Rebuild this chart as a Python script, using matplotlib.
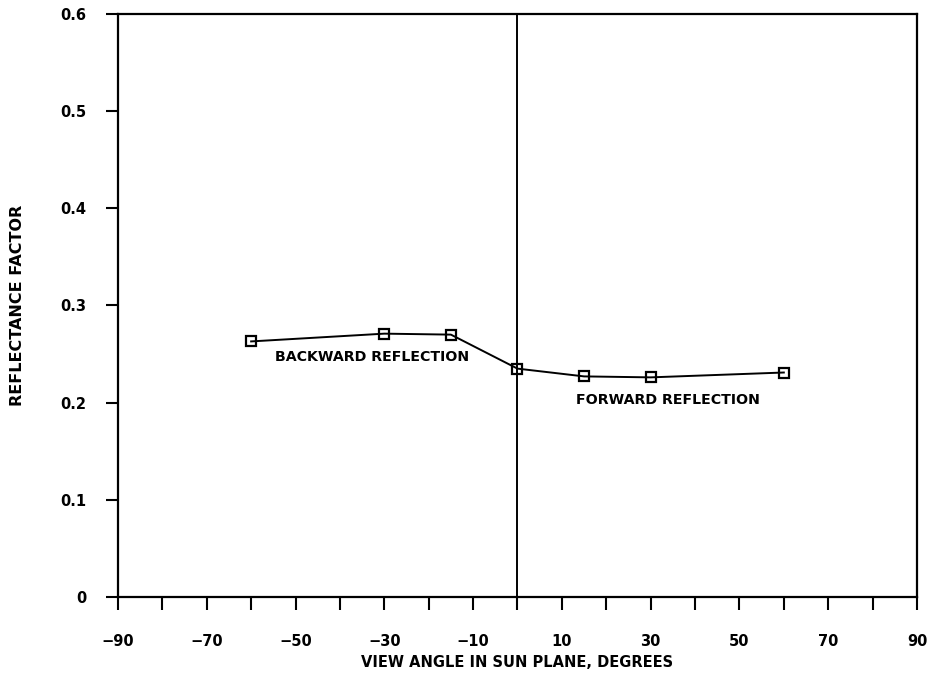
import matplotlib.pyplot as plt
import numpy as np

# reflectance factor vs view angle in the sun plane
angle = [-60, -30, -15, 0, 15, 30, 60]
refl = [0.263, 0.271, 0.270, 0.235, 0.227, 0.226, 0.231]

xticks = np.arange(-90, 91, 10)
xlabels = [str(v).replace('-', '\u2212') if (v + 90) % 20 == 0 else '' for v in xticks]
yticks = [0, 0.1, 0.2, 0.3, 0.4, 0.5, 0.6]
ylabels = ['0', '0.1', '0.2', '0.3', '0.4', '0.5', '0.6']

fig = plt.figure(figsize=(9.34, 6.83), dpi=100)
ax = fig.add_axes([0.1263, 0.126, 0.8555, 0.8535])

ax.plot(angle, refl, color='black', lw=1.4, marker='s', ms=7,
        mfc='none', mec='black', mew=1.6)
ax.axvline(0, color='black', lw=1.4)

ax.text(-32.7, 0.247, 'BACKWARD REFLECTION', ha='center', va='center',
        fontsize=10.2, fontweight='bold')
ax.text(33.8, 0.203, 'FORWARD REFLECTION', ha='center', va='center',
        fontsize=10.2, fontweight='bold')

ax.set_xlim(-90, 90)
ax.set_ylim(0, 0.6)
ax.set_xticks(xticks)
ax.set_xticklabels(xlabels)
ax.set_yticks(yticks)
ax.set_yticklabels(ylabels)
ax.tick_params(direction='out', length=9, width=1.5, labelsize=10.5)
ax.tick_params(axis='x', pad=18)
ax.tick_params(axis='y', pad=14)
for lab in ax.get_xticklabels() + ax.get_yticklabels():
    lab.set_fontweight('bold')
for s in ax.spines.values():
    s.set_linewidth(1.6)

ax.set_xlabel('VIEW ANGLE IN SUN PLANE, DEGREES', fontsize=10.5,
              fontweight='bold', labelpad=4)
ax.set_ylabel('REFLECTANCE FACTOR', fontsize=11.5, fontweight='bold', labelpad=25)

fig.savefig('out.png', dpi=100)
